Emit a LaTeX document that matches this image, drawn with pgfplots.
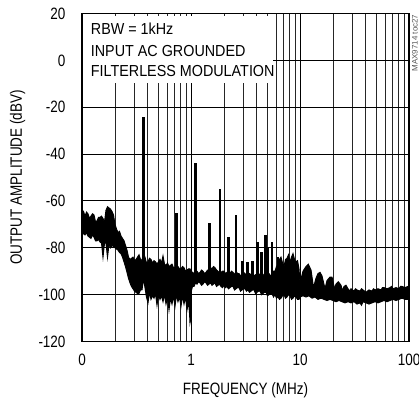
\documentclass[border=0pt]{standalone}
\usepackage{pgfplots}
\pgfplotsset{compat=1.18}
\usepgfplotslibrary{fillbetween}
\usepackage{fontspec}
\setmainfont{Liberation Sans}[FakeStretch=0.82]
\newfontfamily\annfont{Liberation Sans}[FakeStretch=0.9]
\newfontfamily\wmfont{Liberation Sans}
\begin{document}
\begin{tikzpicture}
\begin{axis}[
  name=ax,
  at={(0,0)}, anchor=south west,
  scale only axis, width=327bp, height=328bp,
  xmode=log, xmin=0.1, xmax=100, ymin=-120, ymax=20,
  xtick={0.1,1,10,100}, xticklabels={0,1,10,100},
  ytick={-120,-100,-80,-60,-40,-20,0,20},
  yticklabels={-120,-100,-80,-60,-40,-20,0,20},
  grid=both,
  major grid style={black, line width=1pt},
  minor grid style={black!85, line width=0.6pt},
  tick style={draw=none},
  axis line style={line width=1.6pt},
  ticklabel style={font=\fontsize{16.5}{18}\selectfont},
  xticklabel style={yshift=-9bp},
  yticklabel style={xshift=-13bp},
  xlabel={FREQUENCY (MHz)}, ylabel={OUTPUT AMPLITUDE (dBV)},
  label style={font=\fontsize{16.5}{18}\selectfont},
  xlabel style={at={(axis description cs:0.5,-0.1418)}, anchor=center, yshift=-2bp},
  ylabel style={at={(axis description cs:-0.1972,0.5)}, anchor=center},
]
% white annotation box
\fill[white] ([xshift=1.2bp]axis cs:0.1,-9.7) rectangle ([yshift=-3bp]axis cs:5.65,20);

% noise band upper envelope
\addplot[name path=top, black, line width=1bp] coordinates {
(0.1000,-65.5) (0.1032,-64.5) (0.1065,-66.5) (0.1100,-64.8) (0.1135,-65.5) (0.1172,-67.5) (0.1209,-66.5) (0.1249,-65.5) (0.1289,-66) (0.1331,-69) (0.1373,-68.5) (0.1418,-67) (0.1463,-67) (0.1510,-66.5) (0.1558,-67.5) (0.1609,-69) (0.1660,-64) (0.1714,-62.5) (0.1769,-63) (0.1826,-63.5) (0.1885,-64.5) (0.1946,-66) (0.2008,-70) (0.2073,-72) (0.2139,-73.5) (0.2208,-73) (0.2279,-75) (0.2353,-76) (0.2428,-77) (0.2507,-79) (0.2587,-81) (0.2671,-84) (0.2757,-85) (0.2846,-84.5) (0.2937,-84) (0.3032,-85.5) (0.3129,-85) (0.3230,-84) (0.3334,-83) (0.3441,-85) (0.3552,-85.5) (0.3666,-82) (0.3784,-84) (0.3906,-86.5) (0.4032,-86) (0.4162,-84.5) (0.4295,-85) (0.4434,-86.5) (0.4577,-85.5) (0.4724,-86) (0.4876,-87) (0.5033,-86) (0.5195,-85) (0.5363,-86.5) (0.5535,-83.5) (0.5714,-87) (0.5897,-87.5) (0.6087,-86.5) (0.6283,-88) (0.6486,-87.5) (0.6694,-87) (0.6910,-88.5) (0.7132,-88.5) (0.7362,-87.5) (0.7598,-88) (0.7843,-89) (0.8096,-89) (0.8357,-88) (0.8626,-88.5) (0.8904,-90) (0.9190,-89.5) (0.9487,-89) (0.9791,-89)
(1.000,-90) (1.032,-90.5) (1.0654,-91) (1.100,-89.5) (1.1352,-90) (1.172,-91) (1.2094,-90.5) (1.249,-89.5) (1.2885,-90) (1.331,-91) (1.3728,-90.5) (1.418,-89.5) (1.4627,-89.5) (1.510,-88.5) (1.5583,-89) (1.609,-88) (1.6603,-88.5) (1.714,-89.5) (1.7689,-90) (1.826,-91) (1.8847,-90.5) (1.946,-90) (2.008,-90) (2.073,-91) (2.139,-90.5) (2.208,-91.5) (2.279,-91) (2.353,-90) (2.428,-90.5) (2.507,-91.5) (2.587,-90) (2.671,-91) (2.757,-91) (2.846,-92) (2.937,-91.5) (3.032,-90.5) (3.129,-91) (3.230,-92) (3.334,-92) (3.441,-91) (3.552,-91.5) (3.666,-92.5) (3.784,-92) (3.906,-91.5) (4.032,-92.5) (4.162,-91) (4.295,-91.5) (4.434,-92.5) (4.577,-92) (4.724,-91) (4.876,-92) (5.033,-90.5) (5.195,-91) (5.363,-92) (5.535,-91.5) (5.714,-90) (5.897,-90) (6.087,-88) (6.283,-89) (6.486,-85) (6.694,-84) (6.910,-86.5) (7.132,-88) (7.362,-85) (7.598,-84.5) (7.843,-83) (8.096,-86) (8.357,-84) (8.626,-82.5) (8.904,-85) (9.190,-86) (9.487,-85.5) (9.791,-89)
(10.0,-95) (10.65,-90) (11.35,-88) (11.91,-87) (12.62,-89.5) (13.30,-97) (14.02,-93) (14.63,-91) (15.26,-90.5) (15.91,-92) (16.96,-97.5) (17.69,-94) (18.85,-92.5) (19.66,-92.5) (20.73,-97.5) (21.39,-95.5) (22.46,-94.5) (23.77,-96) (24.55,-98.5) (25.33,-96.5) (26.42,-96) (27.57,-97.5) (28.75,-98.5) (29.37,-97.5) (31.29,-98.5) (32.30,-97.5) (33.34,-98) (35.52,-98.5) (36.66,-97.5) (37.84,-98) (40.32,-99) (42.95,-98) (45.77,-98.5) (47.24,-97.5) (48.76,-98) (51.95,-97.5) (55.35,-98) (57.14,-97) (58.97,-97) (62.83,-97.5) (66.94,-97) (69.10,-96.5) (71.32,-97.5) (75.98,-97) (80.96,-97.5) (83.57,-96.5) (86.26,-96.5) (91.90,-97) (97.91,-96.5) (100,-97)
};
% noise band lower envelope
\addplot[name path=bot, black, line width=1bp] coordinates {
(0.1000,-73) (0.1032,-74) (0.1065,-74.5) (0.1100,-73.5) (0.1135,-75) (0.1172,-75.5) (0.1209,-76) (0.1249,-74.5) (0.1289,-75.5) (0.1331,-77) (0.1373,-77) (0.1418,-76.5) (0.1463,-77.5) (0.1510,-78) (0.1558,-84) (0.1609,-78) (0.1660,-78) (0.1714,-84) (0.1769,-78.5) (0.1826,-80) (0.1885,-79) (0.1946,-79.5) (0.2008,-80) (0.2073,-80.5) (0.2139,-81) (0.2208,-82) (0.2279,-82.5) (0.2353,-84) (0.2428,-86) (0.2507,-88) (0.2587,-90.5) (0.2671,-93) (0.2757,-95) (0.2846,-96.5) (0.2937,-97.5) (0.3032,-98.5) (0.3129,-99) (0.3230,-99.5) (0.3334,-99.5) (0.3441,-98) (0.3552,-98) (0.3666,-93) (0.3784,-97) (0.3906,-101) (0.4032,-103.5) (0.4162,-99) (0.4295,-102) (0.4434,-100.5) (0.4577,-101.5) (0.4724,-99.5) (0.4876,-104.5) (0.5033,-100) (0.5195,-102) (0.5363,-100.5) (0.5535,-103) (0.5714,-100) (0.5897,-104) (0.6087,-101) (0.6283,-106.5) (0.6486,-101.5) (0.6694,-104) (0.6910,-100.5) (0.7132,-105) (0.7362,-100) (0.7598,-103) (0.7843,-101) (0.8096,-105) (0.8357,-100.5) (0.8626,-104) (0.8904,-101) (0.9190,-106.5) (0.9487,-103) (0.9700,-108) (0.9791,-112) (0.9890,-111)
(1.000,-99) (1.032,-96.5) (1.0654,-96.5) (1.100,-95) (1.1352,-95.5) (1.172,-94.5) (1.2094,-95) (1.249,-96) (1.2885,-95.5) (1.331,-94.5) (1.3728,-95) (1.418,-96) (1.4627,-95.5) (1.510,-95) (1.5583,-96) (1.609,-95.5) (1.6603,-95) (1.714,-96.5) (1.7689,-96) (1.826,-95.5) (1.8847,-96.5) (1.946,-97) (2.008,-96) (2.073,-97) (2.139,-96.5) (2.208,-97.5) (2.279,-97) (2.353,-96.5) (2.428,-96.5) (2.507,-98) (2.587,-97.5) (2.671,-97) (2.757,-97) (2.846,-98.5) (2.937,-98) (3.032,-97.5) (3.129,-97.5) (3.230,-98.5) (3.334,-98) (3.441,-99) (3.552,-98.5) (3.666,-98) (3.784,-98) (3.906,-99.5) (4.032,-99) (4.162,-98.5) (4.295,-98.5) (4.434,-100) (4.577,-99.5) (4.724,-99) (4.876,-99) (5.033,-100.5) (5.195,-100) (5.363,-99.5) (5.535,-99.5) (5.714,-101) (5.897,-100) (6.087,-101.5) (6.283,-101) (6.486,-102) (6.694,-101.5) (6.910,-100.5) (7.132,-100) (7.362,-101.5) (7.598,-101) (7.843,-100) (8.096,-100.5) (8.357,-102) (8.626,-101.5) (8.904,-100.5) (9.190,-101) (9.487,-102) (9.791,-102)
(10.0,-101) (10.65,-100.5) (11.35,-101) (12.09,-100.5) (12.89,-101.5) (13.73,-101) (14.63,-102) (15.58,-101.5) (16.60,-102) (17.69,-102.5) (18.85,-102) (20.08,-102.5) (21.39,-103) (22.79,-102.5) (24.28,-103) (25.87,-103.5) (27.57,-103) (29.37,-103.5) (31.29,-103) (33.34,-104) (35.52,-103.5) (36.66,-104.5) (37.84,-103) (40.32,-103.5) (42.95,-104) (45.77,-103.5) (48.76,-103) (51.95,-103.5) (55.35,-103) (58.97,-102.5) (62.83,-103) (66.94,-102.5) (71.32,-102) (75.98,-102.5) (80.96,-102) (86.26,-101.5) (91.90,-102) (97.91,-102) (100,-102)
};
\addplot[black] fill between[of=top and bot];

% main spike
\addplot[black, line width=3.3bp, unbounded coords=jump] coordinates {
(0.368,-92) (0.368,-24.3)
};
% other spikes
\addplot[black, line width=2.6bp, unbounded coords=jump] coordinates {
(0.733,-92) (0.733,-65.3) (0.733,nan)
(1.095,-93) (1.095,-43.7) (1.095,nan)
(1.47,-93) (1.47,-69.5) (1.47,nan)
(1.845,-93) (1.845,-55) (1.845,nan)
(2.2,-93) (2.2,-75.3) (2.2,nan)
(2.59,-93) (2.59,-66) (2.59,nan)
(2.96,-94) (2.96,-85.5) (2.96,nan)
(3.3,-94) (3.3,-86) (3.3,nan)
(3.68,-94) (3.68,-85.6) (3.68,nan)
(4.06,-94) (4.06,-77.4) (4.06,nan)
(4.46,-94) (4.46,-81.7) (4.46,nan)
(4.85,-94) (4.85,-74.5) (4.85,nan)
(5.1,-94) (5.1,-80) (5.1,nan)
(5.55,-94) (5.55,-77.4) (5.55,nan)
(6.3,-94) (6.3,-83.8)
};

\node[anchor=base west, font=\annfont\fontsize{16}{18}\selectfont, inner sep=0pt] at ([xshift=8.7bp,yshift=-21.5bp]rel axis cs:0,1) {RBW = 1kHz};
\node[anchor=base west, font=\annfont\fontsize{16}{18}\selectfont, inner sep=0pt] at ([xshift=8.7bp,yshift=-43.2bp]rel axis cs:0,1) {INPUT AC GROUNDED};
\node[anchor=base west, font=\annfont\fontsize{16}{18}\selectfont, inner sep=0pt] at ([xshift=8.7bp,yshift=-63.2bp]rel axis cs:0,1) {FILTERLESS MODULATION};
\end{axis}
\node[rotate=90, anchor=base east, inner sep=0pt, font=\wmfont\fontsize{8}{9}\selectfont, text=black!65] at ([xshift=8.5bp,yshift=-1bp]ax.north east) {MAX9714 toc27};
\pgfresetboundingbox
\path[use as bounding box] (-82bp,-59.5bp) rectangle (337bp,341.5bp);
\end{tikzpicture}
\end{document}
